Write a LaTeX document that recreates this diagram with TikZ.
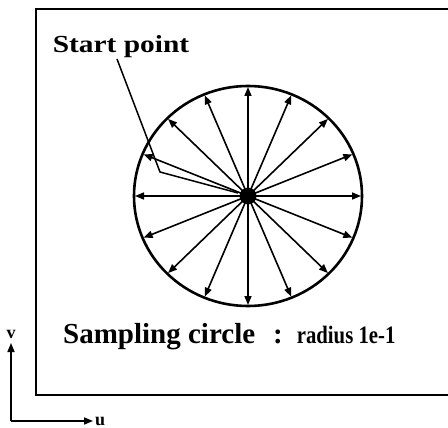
\documentclass[tikz,border=0pt]{standalone}
\usepackage{fontspec}
\setmainfont{Liberation Serif}
\newfontfamily\wideserif{Liberation Serif}[FakeStretch=1.2]
\newfontfamily\narrowserif{Liberation Serif}[FakeStretch=0.83]
\usetikzlibrary{arrows.meta}

\begin{document}
\begin{tikzpicture}[
  x=1pt,y=-1pt,
  >={Triangle[length=9pt,width=7pt]},
  spoke/.style={->,line width=1.6pt},
  ring/.style={draw,line width=2.6pt},
  leader/.style={line width=1.5pt},
  axis/.style={->,line width=1.6pt},
  lbl/.style={inner sep=0pt,font=\bfseries},
  every node/.style={inner sep=0pt}
]
\useasboundingbox (0,0) rectangle (448,428);
% frame (right edge lies outside the picture)
\draw[line width=2.4pt] (460,9) -- (36,9) -- (36,395) -- (460,395);

% sampling circle with its sixteen directions
\draw[ring] (248,196) ellipse [x radius=114, y radius=110];
\node[circle,fill,minimum size=17pt] (c) at (248,196) {};
\foreach \i in {0,...,15}{
  \coordinate (s\i) at ({248+113*cos(22.5*\i)},{196-109*sin(22.5*\i)});
  \draw[spoke] (c.center) -- (s\i);
}

% start point label and leader
\node[lbl,anchor=base,font=\bfseries\wideserif\fontsize{24.5}{26}\selectfont]
  (start) at (121,53) {Start point};
\coordinate (bend) at (160,172);
\coordinate (tip) at (238,193);
\draw[leader] (117,59) -- (bend) -- (tip);

% caption
\node[lbl,anchor=base west,font=\bfseries\fontsize{29}{30}\selectfont]
  (caption) at (63,343)
  {Sampling circle\hspace{18pt}:\hspace{14pt}{\narrowserif\fontsize{25}{26}\selectfont radius 1e-1}};

% u-v axes
\coordinate (o) at (11,421);
\coordinate (vend) at (11,343);
\coordinate (uend) at (93,421);
\draw[axis] (o) -- (vend);
\draw[axis] (o) -- (uend);
\node[lbl,anchor=base,font=\bfseries\fontsize{18}{18}\selectfont] (v) at (11,338) {v};
\node[lbl,anchor=base west,font=\bfseries\fontsize{18}{18}\selectfont] (u) at (95,425.5) {u};
\end{tikzpicture}
\end{document}
